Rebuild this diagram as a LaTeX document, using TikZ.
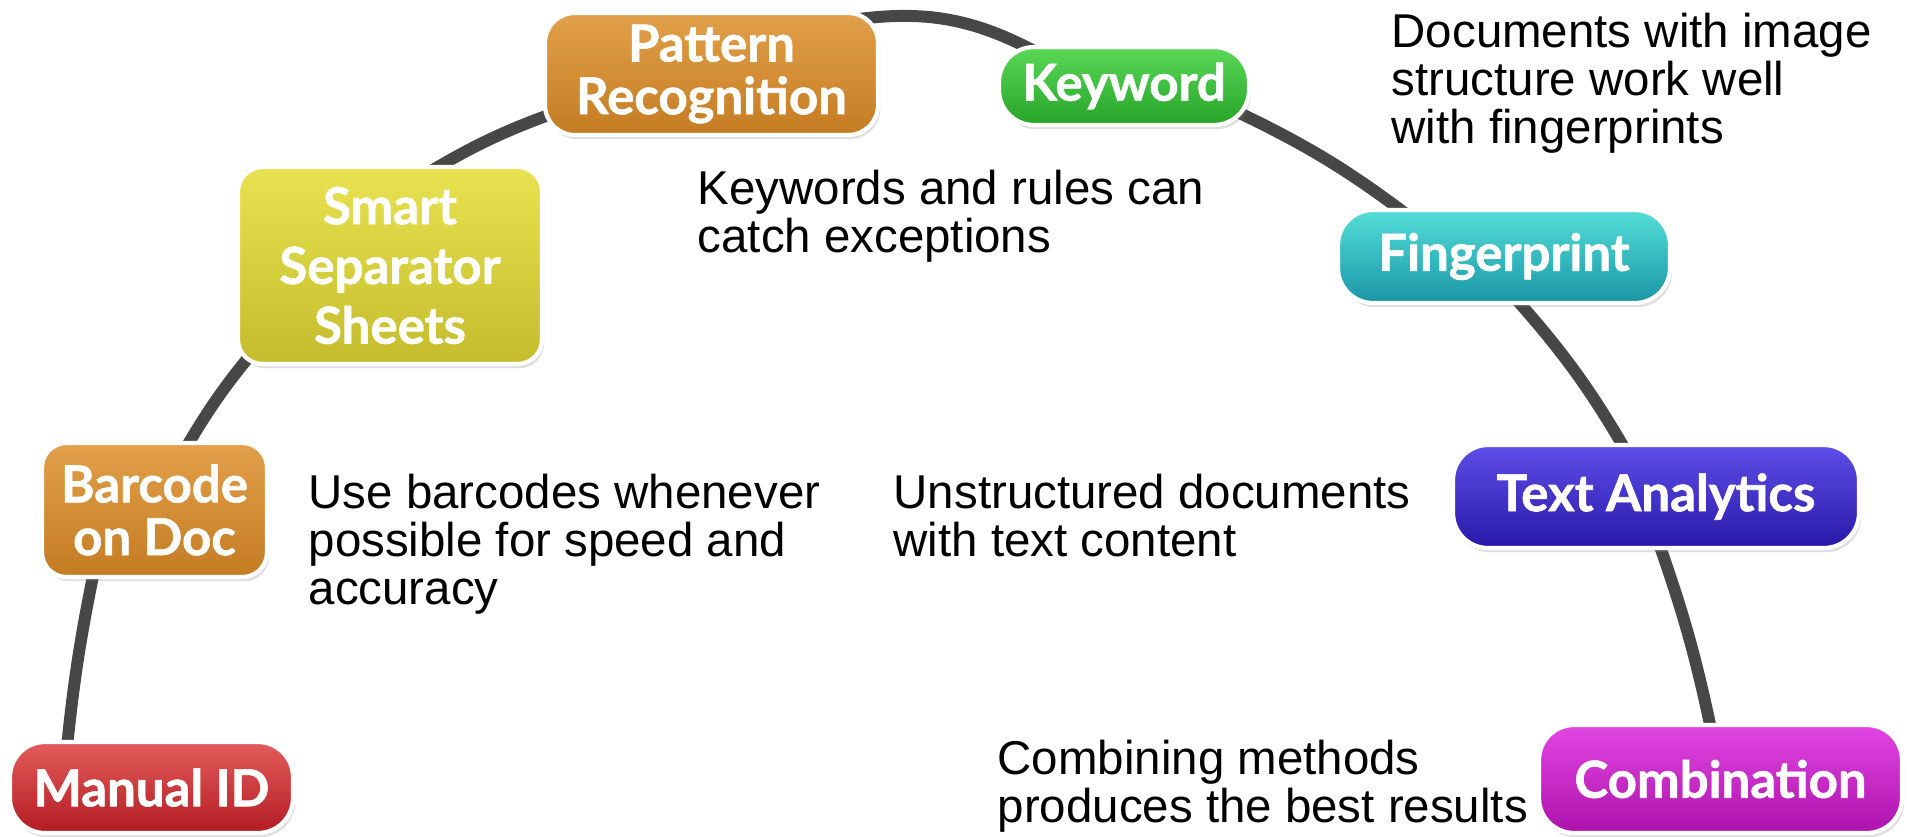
\documentclass[tikz,border=0pt]{standalone}
\usepackage{fontspec}
\setmainfont{Liberation Sans}
\newfontfamily\boxfont{Lato}[BoldFeatures={FakeBold=1.2}]
\usetikzlibrary{calc, shadows, backgrounds}

\definecolor{redtop}{RGB}{228,92,92}
\definecolor{redbot}{RGB}{178,28,34}
\definecolor{orgtop}{RGB}{226,160,74}
\definecolor{orgbot}{RGB}{196,124,34}
\definecolor{yeltop}{RGB}{232,226,80}
\definecolor{yelbot}{RGB}{196,188,44}
\definecolor{grntop}{RGB}{92,216,88}
\definecolor{grnbot}{RGB}{36,164,40}
\definecolor{tealtop}{RGB}{84,222,216}
\definecolor{tealbot}{RGB}{26,150,166}
\definecolor{bluetop}{RGB}{94,78,232}
\definecolor{bluebot}{RGB}{40,24,168}
\definecolor{magtop}{RGB}{226,70,226}
\definecolor{magbot}{RGB}{172,18,172}

\begin{document}
\begin{tikzpicture}
      [
        box/.style={draw=white, line width=1.2pt, text=white, inner sep=0pt,
          align=center, font=\boxfont\bfseries\fontsize{14.5}{15}\selectfont,
          drop shadow={opacity=0.25, shadow xshift=0.6pt, shadow yshift=-1.2pt}},
        pill/.style={box, rounded corners=10pt},
        note/.style={anchor=north west, inner sep=0pt, align=left,
          font=\fontsize{13.5}{13.7}\selectfont},
        link/.style={line width=3.4pt, draw=black!72, bend left=#1,
          preaction={draw=white, line width=5.4pt}}
      ]
      \useasboundingbox (0,0) rectangle (19.07,8.36);
      % method boxes
      \node [pill, minimum width=2.83cm, minimum height=0.91cm,
        top color=redtop, bottom color=redbot] (manual) at (1.515,0.485) {Manual ID};
      \node [box, rounded corners=7pt, minimum width=2.25cm, minimum height=1.34cm,
        top color=orgtop, bottom color=orgbot] (barcode) at (1.545,3.26) {Barcode\\on Doc};
      \node [box, rounded corners=7pt, minimum width=3.04cm, minimum height=1.97cm,
        top color=yeltop, bottom color=yelbot,
        font=\boxfont\bfseries\fontsize{14.5}{17}\selectfont] (smart) at (3.90,5.705)
        {Smart\\Separator\\Sheets};
      \node [box, rounded corners=8.5pt, minimum width=3.33cm, minimum height=1.22cm,
        top color=orgtop, bottom color=orgbot] (pattern) at (7.115,7.62) {Pattern\\Recognition};
      \node [pill, minimum width=2.50cm, minimum height=0.78cm,
        top color=grntop, bottom color=grnbot] (keyword) at (11.24,7.50) {Keyword};
      \node [pill, minimum width=3.32cm, minimum height=0.93cm,
        top color=tealtop, bottom color=tealbot] (finger) at (15.04,5.795) {Fingerprint};
      \node [pill, minimum width=4.06cm, minimum height=1.03cm,
        top color=bluetop, bottom color=bluebot] (textan) at (16.56,3.395) {Text Analytics};
      \node [pill, minimum width=3.63cm, minimum height=1.08cm,
        top color=magtop, bottom color=magbot] (combo) at (17.205,0.57) {Combination};
      % notes
      \node [note] (kwnote) at (6.97,6.67) {Keywords and rules can\\catch exceptions};
      \node [note] (fpnote) at (13.91,8.24) {Documents with image\\structure work well\\with fingerprints};
      \node [note] (bcnote) at (3.08,3.63) {Use barcodes whenever\\possible for speed and\\accuracy};
      \node [note] (unnote) at (8.93,3.63) {Unstructured documents\\with text content};
      \node [note] (cbnote) at (9.97,0.97) {Combining methods\\produces the best results};
      % arc behind the boxes
      \begin{scope}[on background layer]
        \draw [link=3] ($(manual.north west)+(0.58,-0.18)$) to ($(barcode.south west)+(0.56,0.17)$);
        \draw [link=5] ($(barcode.north west)+(1.43,-0.12)$) to ($(smart.south west)+(0.27,0.26)$);
        \draw [link=6] ($(smart.north west)+(1.82,-0.14)$) to ($(pattern.south west)+(0.25,0.29)$);
        \draw [link=18] ($(pattern.north east)+(-0.28,-0.09)$) to ($(keyword.north west)+(0.41,-0.08)$);
        \draw [link=6] ($(keyword.south east)+(-0.24,0.20)$) to ($(finger.north west)+(0.82,-0.15)$);
        \draw [link=6] ($(finger.south west)+(1.74,0.13)$) to ($(textan.north west)+(1.82,-0.20)$);
        \draw [link=4] ($(textan.south west)+(2.04,0.18)$) to ($(combo.north west)+(1.77,-0.20)$);
      \end{scope}
    \end{tikzpicture}
\end{document}
